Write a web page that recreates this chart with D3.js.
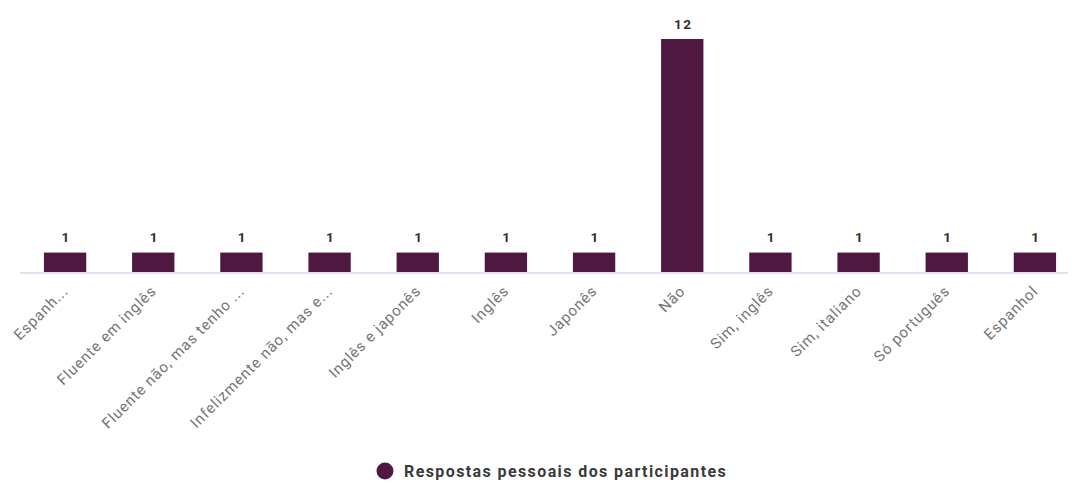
<!DOCTYPE html>
<html>
<head>
<meta charset="utf-8">
<script src="https://cdn.jsdelivr.net/npm/d3@7"></script>
<style>
  body { margin: 0; background: #fff; }
  svg { font-family: Roboto, "Noto Sans", sans-serif; }
</style>
</head>
<body>
<svg id="chart" width="1072" height="484"></svg>
<script>
'use strict';

var categories = ['Espanh...', 'Fluente em inglês', 'Fluente não, mas tenho ...',
  'Infelizmente não, mas e...', 'Inglês e japonês', 'Inglês', 'Japonês', 'Não',
  'Sim, inglês', 'Sim, italiano', 'Só português', 'Espanhol'];
var counts = [1, 1, 1, 1, 1, 1, 1, 12, 1, 1, 1, 1];
var seriesName = 'Respostas pessoais dos participantes';
var barColor = '#4e1840';

var svg = d3.select('#chart');
var baseY = 272;

var x = d3.scaleBand()
  .domain(categories)
  .range([21, 1079])
  .paddingInner(0.52)
  .paddingOuter(0.26);

var y = d3.scaleLinear()
  .domain([0, 12])
  .range([baseY, 39]);

// baseline
svg.append('line')
  .attr('x1', 20).attr('x2', 1068)
  .attr('y1', baseY + 1).attr('y2', baseY + 1)
  .style('stroke', '#dfe2f0')
  .style('stroke-width', 2);

svg.selectAll('rect.bar')
  .data(counts)
  .enter().append('rect')
  .attr('class', 'bar')
  .attr('x', function (d, i) { return x(categories[i]); })
  .attr('y', function (d) { return y(d); })
  .attr('width', x.bandwidth())
  .attr('height', function (d) { return baseY - y(d); })
  .style('fill', barColor);

svg.selectAll('text.val')
  .data(counts)
  .enter().append('text')
  .attr('class', 'val')
  .attr('x', function (d, i) { return x(categories[i]) + x.bandwidth() / 2 + 1; })
  .attr('y', function (d) { return y(d) - 10.5; })
  .attr('text-anchor', 'middle')
  .style('font-size', '13.5px')
  .style('font-weight', 'bold')
  .style('letter-spacing', '1.5px')
  .style('fill', '#2e2e2e')
  .text(function (d) { return d; });

svg.selectAll('text.cat')
  .data(categories)
  .enter().append('text')
  .attr('class', 'cat')
  .attr('transform', function (d) {
    return 'translate(' + (x(d) + x.bandwidth() / 2 + 4) + ',' + (baseY + 20) + ') rotate(-45)';
  })
  .attr('text-anchor', 'end')
  .style('font-size', '15px')
  .style('letter-spacing', '0.9px')
  .style('fill', '#757575')
  .text(function (d) { return d; });

// legend
var lg = svg.append('g').attr('transform', 'translate(385,471)');
lg.append('circle').attr('r', 8.5).style('fill', barColor);
lg.append('text')
  .attr('x', 19).attr('y', 5.5)
  .style('font-size', '16px')
  .style('font-weight', 'bold')
  .style('letter-spacing', '1.4px')
  .style('fill', '#3a3a3a')
  .text(seriesName);
</script>
</body>
</html>
